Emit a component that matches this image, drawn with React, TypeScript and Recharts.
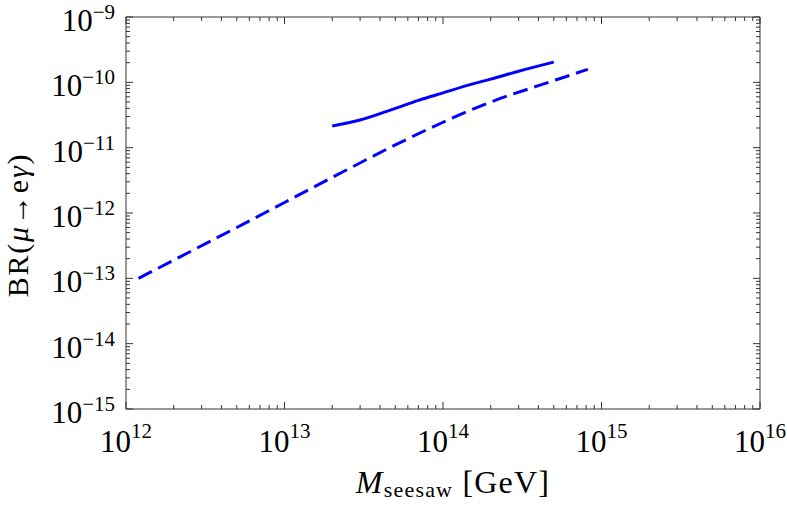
import React from 'react';
import { LineChart, Line, XAxis, YAxis } from 'recharts';

// solid curve
const solidMass = [2e13, 3e13, 5e13, 7e13, 1e14, 1.5e14, 2e14, 3e14, 5e14];
const solidBR = [2.15e-11, 2.65e-11, 4.0e-11, 5.3e-11, 6.9e-11, 9.3e-11, 1.12e-10, 1.48e-10, 2.04e-10];

// dashed curve
const dashedMass = [1.2e12, 2e12, 5e12, 1e13, 2e13, 5e13, 1e14, 2e14, 4e14, 6e14, 8.2e14];
const dashedBR = [1.0e-13, 1.9e-13, 6.0e-13, 1.45e-12, 3.5e-12, 1.1e-11, 2.45e-11, 5.0e-11, 8.9e-11, 1.23e-10, 1.58e-10];

const xDecades = [12, 13, 14, 15, 16];
const yDecades = [-15, -14, -13, -12, -11, -10, -9];
const minorSteps = [2, 3, 4, 5, 6, 7, 8, 9];

const solidData = solidMass.map((x, i) => ({ x, y: solidBR[i] }));
const dashedData = dashedMass.map((x, i) => ({ x, y: dashedBR[i] }));

const withMinor = (decades: number[]) => {
  const out: number[] = [];
  decades.forEach((d, i) => {
    out.push(Math.pow(10, d));
    if (i < decades.length - 1) minorSteps.forEach((k) => out.push(k * Math.pow(10, d)));
  });
  return out;
};
const xTicks = withMinor(xDecades);
const yTicks = withMinor(yDecades);

const isMajor = (v: number) => Math.abs(Math.log10(v) - Math.round(Math.log10(v))) < 1e-6;
const expOf = (v: number) => Math.round(Math.log10(v));

const FONT = '"Liberation Serif", "DejaVu Serif", serif';
const TICK = '#333';
const BLUE = '#0000ff';

const fmtExp = (e: number) => (e < 0 ? '\u2212' + Math.abs(e) : String(e));

const makeXTick = (side: 'bottom' | 'top') => (props: any) => {
  const { x, y, payload } = props;
  const major = isMajor(payload.value);
  const len = major ? 7 : 4;
  const dir = side === 'bottom' ? -1 : 1;
  return (
    <g>
      <line x1={x} x2={x} y1={y} y2={y + dir * len} stroke={TICK} strokeWidth={1} />
      {side === 'bottom' && major && (
        <text x={x} y={y + 43} textAnchor="middle" fontFamily={FONT} fontSize={31} fill="#000">
          <tspan>10</tspan>
          <tspan dy={-14} fontSize={21}>{fmtExp(expOf(payload.value))}</tspan>
        </text>
      )}
    </g>
  );
};

const makeYTick = (side: 'left' | 'right') => (props: any) => {
  const { x, y, payload } = props;
  const major = isMajor(payload.value);
  const len = major ? 7 : 4;
  const dir = side === 'left' ? 1 : -1;
  return (
    <g>
      <line x1={x} x2={x + dir * len} y1={y} y2={y} stroke={TICK} strokeWidth={1} />
      {side === 'left' && major && (
        <text x={x - 11} y={y + 14} textAnchor="end" fontFamily={FONT} fontSize={31} fill="#000">
          <tspan>10</tspan>
          <tspan dy={-12} fontSize={21}>{fmtExp(expOf(payload.value))}</tspan>
        </text>
      )}
    </g>
  );
};

export default function App() {
  return (
    <div style={{ position: 'absolute', left: 0, top: 0 }}>
      <LineChart width={787} height={508} margin={{ top: 16, right: 26, bottom: 98, left: 125 }}>
        <XAxis
          xAxisId="b"
          dataKey="x"
          type="number"
          scale="log"
          domain={[1e12, 1e16]}
          allowDataOverflow
          ticks={xTicks}
          interval={0}
          tickSize={0}
          tickMargin={0}
          tickLine={false}
          height={1}
          axisLine={{ stroke: TICK }}
          tick={makeXTick('bottom')}
        />
        <XAxis
          xAxisId="t"
          orientation="top"
          dataKey="x"
          type="number"
          scale="log"
          domain={[1e12, 1e16]}
          allowDataOverflow
          ticks={xTicks}
          interval={0}
          tickSize={0}
          tickMargin={0}
          tickLine={false}
          height={1}
          axisLine={{ stroke: TICK }}
          tick={makeXTick('top')}
        />
        <YAxis
          yAxisId="l"
          type="number"
          scale="log"
          domain={[1e-15, 1e-9]}
          allowDataOverflow
          ticks={yTicks}
          interval={0}
          tickSize={0}
          tickMargin={0}
          tickLine={false}
          width={1}
          axisLine={{ stroke: TICK }}
          tick={makeYTick('left')}
        />
        <YAxis
          yAxisId="r"
          orientation="right"
          type="number"
          scale="log"
          domain={[1e-15, 1e-9]}
          allowDataOverflow
          ticks={yTicks}
          interval={0}
          tickSize={0}
          tickMargin={0}
          tickLine={false}
          width={1}
          axisLine={{ stroke: TICK }}
          tick={makeYTick('right')}
        />
        <Line
          xAxisId="b"
          yAxisId="l"
          data={dashedData}
          dataKey="y"
          type="monotone"
          stroke={BLUE}
          strokeWidth={3}
          strokeDasharray="15 7"
          dot={false}
          activeDot={false}
          isAnimationActive={false}
        />
        <Line
          xAxisId="b"
          yAxisId="l"
          data={solidData}
          dataKey="y"
          type="monotone"
          stroke={BLUE}
          strokeWidth={3}
          dot={false}
          activeDot={false}
          isAnimationActive={false}
        />
        <text x={453} y={493} textAnchor="middle" fontFamily={FONT} fontSize={32} letterSpacing={1.2} fill="#000">
          <tspan fontStyle="italic">M</tspan>
          <tspan fontSize={22} dy={4}>seesaw</tspan>
          <tspan dy={-4}> [GeV]</tspan>
        </text>
        <text
          transform="translate(28,225) rotate(-90)"
          textAnchor="middle"
          fontFamily={FONT}
          fontSize={30}
          letterSpacing={1.8}
          fill="#000"
        >
          BR(<tspan fontStyle="italic">μ</tspan>→e<tspan fontStyle="italic">γ</tspan>)
        </text>
      </LineChart>
    </div>
  );
}
